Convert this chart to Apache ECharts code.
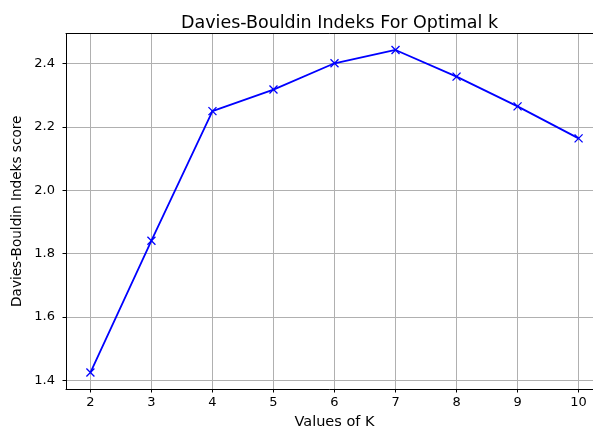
<!DOCTYPE html>
<html>
<head>
<meta charset="utf-8">
<script src="https://cdn.jsdelivr.net/npm/echarts@6/dist/echarts.min.js"></script>
<style>
  html, body { margin: 0; padding: 0; background: #fff; }
  #chart { width: 593px; height: 428px; }
</style>
</head>
<body>
<div id="chart"></div>
<script>
// data
const kValues = [2, 3, 4, 5, 6, 7, 8, 9, 10];
const dbScores = [1.425, 1.841, 2.250, 2.318, 2.401, 2.443, 2.359, 2.265, 2.164];

const FONT = 'DejaVu Sans';
const chart = echarts.init(document.getElementById('chart'));

const hidden = { axisLine: { show: false }, axisTick: { show: false }, axisLabel: { show: false }, splitLine: { show: false } };
const spine = {
  axisLine: { show: true, lineStyle: { color: '#000', width: 1 } },
  axisTick: { show: false }, axisLabel: { show: false }, splitLine: { show: false }
};
const gridLine = { show: true, lineStyle: { color: '#b0b0b0', width: 1 } };

// grid 0: full axes box (spines + data), right edge runs past the picture
// grid 1: x tick range (x ticks, labels, vertical grid lines)
// grid 2: y tick range (y ticks, labels, horizontal grid lines)
chart.setOption({
  animation: false,
  title: {
    text: 'Davies-Bouldin Indeks For Optimal k',
    left: 334.5, top: 9, textAlign: 'center',
    textStyle: { fontFamily: FONT, fontSize: 17.5, fontWeight: 'normal', color: '#000' }
  },
  grid: [
    { left: 66, right: -10, top: 33.5, bottom: 39, outerBoundsMode: 'none' },
    { left: 90.4, right: 14.4, top: 33.5, bottom: 39, outerBoundsMode: 'none' },
    { left: 66, right: -10, top: 63.6, bottom: 47.6, outerBoundsMode: 'none' }
  ],
  xAxis: [
    Object.assign({ type: 'value', gridIndex: 0, min: 1.6, max: 10.4,
      name: 'Values of K', nameLocation: 'middle', nameGap: 26,
      nameTextStyle: { fontFamily: FONT, fontSize: 14.5, color: '#000' } }, spine),
    Object.assign({ type: 'value', gridIndex: 0, position: 'top', min: 1.6, max: 10.4 }, spine),
    {
      type: 'value', gridIndex: 1, min: 2, max: 10, interval: 1,
      axisLine: { show: false },
      axisTick: { show: true, length: 3.5, lineStyle: { color: '#000', width: 1 } },
      axisLabel: { fontFamily: FONT, fontSize: 13, color: '#000', margin: 7 },
      splitLine: gridLine
    },
    Object.assign({ type: 'value', gridIndex: 2, min: 0, max: 1 }, hidden)
  ],
  yAxis: [
    Object.assign({ type: 'value', gridIndex: 0, min: 1.373, max: 2.495,
      name: 'Davies-Bouldin Indeks score', nameLocation: 'middle', nameGap: 42,
      nameTextStyle: { fontFamily: FONT, fontSize: 13.6, color: '#000' } }, spine),
    Object.assign({ type: 'value', gridIndex: 1, min: 0, max: 1 }, hidden),
    {
      type: 'value', gridIndex: 2, min: 1.4, max: 2.4, interval: 0.2,
      axisLine: { show: false },
      axisTick: { show: true, length: 3.5, lineStyle: { color: '#000', width: 1 } },
      axisLabel: { fontFamily: FONT, fontSize: 13, color: '#000', margin: 11,
        formatter: v => v.toFixed(1) },
      splitLine: gridLine
    }
  ],
  series: [
    {
      type: 'line',
      xAxisIndex: 0, yAxisIndex: 0,
      data: kValues.map((k, i) => [k, dbScores[i]]),
      lineStyle: { color: '#0000ff', width: 1.8 },
      symbol: 'path://M0,0L10,10M10,0L0,10',
      symbolSize: 8,
      itemStyle: { color: '#0000ff', borderColor: '#0000ff', borderWidth: 1.3 },
      clip: false,
      z: 5
    }
  ]
});
</script>
</body>
</html>
